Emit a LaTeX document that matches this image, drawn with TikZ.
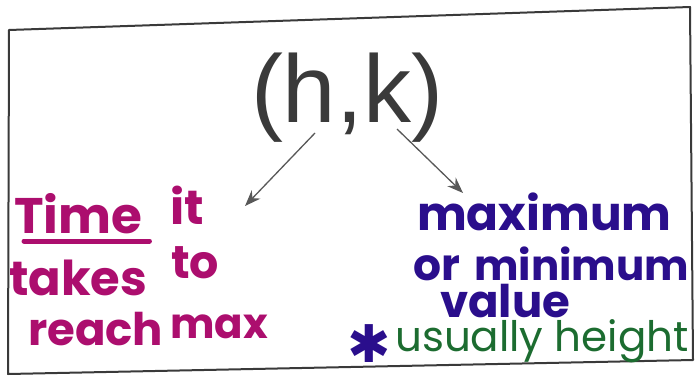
\documentclass[tikz,border=0pt]{standalone}
\usepackage{fontspec}
\setmainfont{Liberation Sans}
\newfontfamily\hand{Poppins}
\newfontfamily\symb{DejaVu Sans}
\usetikzlibrary{arrows.meta}
\definecolor{ink}{RGB}{58,58,58}
\definecolor{mag}{RGB}{172,14,110}
\definecolor{vio}{RGB}{42,14,140}
\definecolor{grn}{RGB}{28,108,48}
\begin{document}
\begin{tikzpicture}[x=1pt,y=-1pt,
  frame/.style={draw=ink,line width=2pt,line join=round},
  arr/.style={draw=ink!85,line width=1.3pt,-{Stealth[length=16pt,width=12pt]}},
  title/.style={font=\fontsize{96}{96}\selectfont, text=ink, inner sep=0pt, anchor=base},
  pinktext/.style={font=\hand\bfseries\fontsize{#1}{#1}\selectfont, text=mag, inner sep=0pt, anchor=base west},
  bluetext/.style={font=\hand\bfseries\fontsize{#1}{#1}\selectfont, text=vio, inner sep=0pt, anchor=base west},
  greentext/.style={font=\hand\fontsize{#1}{#1}\selectfont, text=grn, inner sep=0pt, anchor=base west},
  uline/.style={draw=mag,line width=5pt,line cap=round}
]
\useasboundingbox (0,0) rectangle (698,378);
\draw[frame] (9,30) -- (690,7) -- (693,360) -- (8,374) -- cycle;

\node[title] (hk) at (347,122) {(h,k)};

\coordinate (l1) at (315,133);
\coordinate (l2) at (245,206);
\coordinate (r1) at (397,129);
\coordinate (r2) at (463,193);
\draw[arr] (l1) -- (l2);
\draw[arr] (r1) -- (r2);

\node[pinktext=50] (time) at (14,233) {Time};
\node[pinktext=48] (it) at (170,224) {it};
\node[pinktext=48] (takes) at (9,295) {takes};
\node[pinktext=46] (to) at (171,278) {to};
\node[pinktext=45] (reach) at (28,345) {reach};
\node[pinktext=42] (max) at (170,338) {max};
\draw[uline] ([xshift=10pt,yshift=-8pt]time.base west) -- ([xshift=7pt,yshift=-8pt]time.base east);

\node[bluetext=47] (maximum) at (417,230) {maximum};
\node[bluetext=44] (or) at (413,280) {or};
\node[bluetext=42] (minimum) at (474,280) {minimum};
\node[bluetext=45] (value) at (440,317) {value};
\node[font=\symb\fontsize{52}{52}\selectfont, text=vio, inner sep=0pt, anchor=center] (star) at (369,344) {✱};
\node[greentext=42] (usually) at (395,351) {usually height};
\end{tikzpicture}
\end{document}
